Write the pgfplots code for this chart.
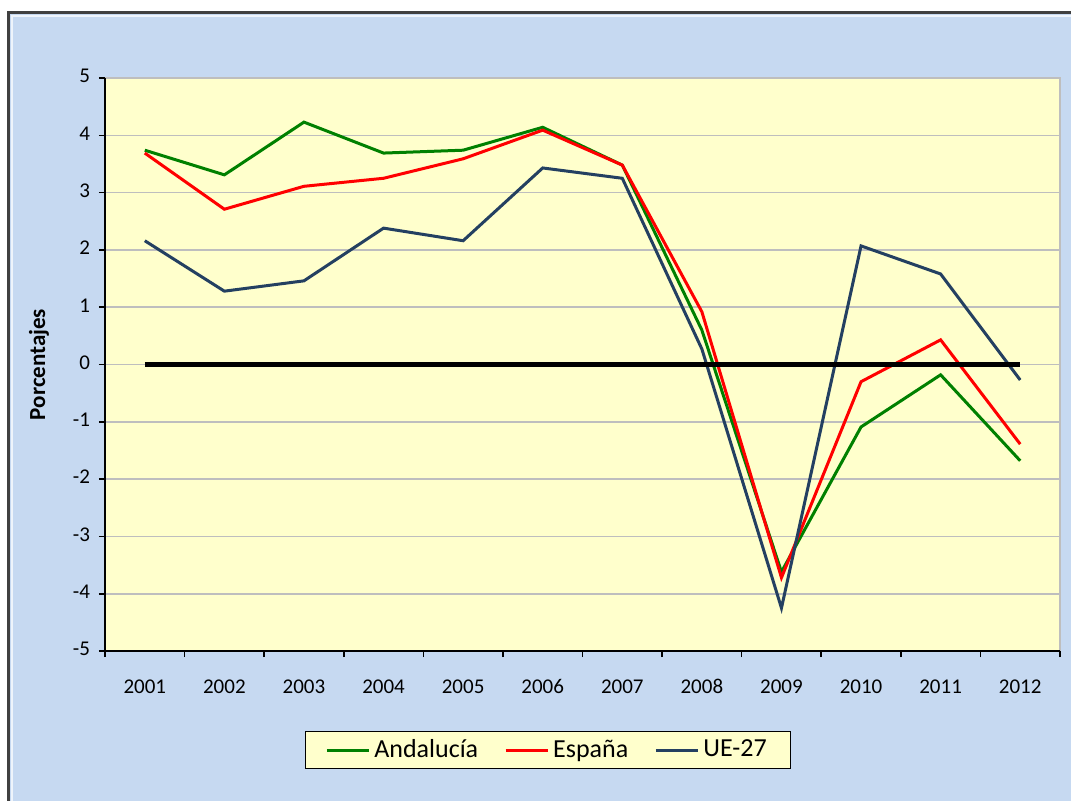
\documentclass[border=0pt]{standalone}
\usepackage{pgfplots}
\pgfplotsset{compat=1.18}
\usepackage{fontspec}
\setmainfont{Carlito}
\definecolor{bgblue}{RGB}{198,217,241}
\definecolor{plotyel}{RGB}{255,255,204}
\definecolor{ue}{RGB}{36,64,97}
\definecolor{andg}{RGB}{0,128,0}
\definecolor{gridg}{RGB}{190,190,190}
\begin{document}
\begin{tikzpicture}
\useasboundingbox (-52.5pt,-74.5pt) rectangle (483pt,325.5pt);
\fill[white] (-52.5pt,-74.5pt) rectangle (483pt,325.5pt);
\filldraw[fill=bgblue, draw=black!75, line width=1.5pt] (-48pt,-85pt) rectangle (495pt,319pt);
\draw[white!70!bgblue, line width=1pt] (-46.5pt,-85pt) -- (-46.5pt,317.5pt) -- (495pt,317.5pt);
\begin{axis}[
  scale only axis, width=477.5pt, height=286.5pt,
  at={(0pt,0pt)}, anchor=south west,
  xmin=0.5, xmax=12.5, ymin=-5, ymax=5,
  xtick={0.5,1.5,...,12.5},
  x tick label as interval,
  xticklabels={2001,2002,2003,2004,2005,2006,2007,2008,2009,2010,2011,2012},
  ytick={-5,-4,...,5},
  yticklabels={-5,-4,-3,-2,-1,0,1,2,3,4,5},
  typeset ticklabels with strut,
  axis lines*=left,
  axis line style={black, line width=1pt},
  tick align=outside,
  major tick length=3pt,
  tick style={black, line width=0.8pt},
  ymajorgrids,
  grid style={gridg, line width=0.8pt},
  axis background/.style={fill=plotyel, draw=gridg, line width=0.8pt},
  ticklabel style={font=\fontsize{10.5}{12}\selectfont},
  xticklabel style={yshift=-6.5pt},
  yticklabel style={xshift=-1pt},
  ylabel={\textbf{Porcentajes}},
  ylabel style={at={(axis description cs:-0.069,0.5)}, anchor=center, font=\fontsize{11.5}{13}\selectfont},
  legend style={at={(axis description cs:0.4639,-0.1728)}, anchor=center,
    fill=plotyel, draw=black, line width=0.8pt, legend columns=3,
    font=\fontsize{13}{15}\selectfont, /tikz/every even column/.append style={column sep=11pt},
    inner xsep=10pt, inner ysep=2pt},
  legend image code/.code={\draw[#1] (0pt,0pt) -- (21pt,0pt);},
]
\addplot[andg, line width=1.5pt] coordinates {
(1,3.74) (2,3.31) (3,4.23) (4,3.69) (5,3.74) (6,4.14) (7,3.48) (8,0.60) (9,-3.62) (10,-1.09) (11,-0.18) (12,-1.68)};
\addlegendentry{Andalucía}
\addplot[red, line width=1.5pt] coordinates {
(1,3.69) (2,2.71) (3,3.11) (4,3.25) (5,3.59) (6,4.09) (7,3.48) (8,0.92) (9,-3.72) (10,-0.30) (11,0.43) (12,-1.39)};
\addlegendentry{España}
\addplot[ue, line width=1.5pt] coordinates {
(1,2.16) (2,1.28) (3,1.46) (4,2.38) (5,2.16) (6,3.43) (7,3.25) (8,0.27) (9,-4.25) (10,2.07) (11,1.58) (12,-0.27)};
\addlegendentry{UE-27}
\addplot[black, line width=2.5pt, forget plot] coordinates {
(1,0) (2,0) (3,0) (4,0) (5,0) (6,0) (7,0) (8,0) (9,0) (10,0) (11,0) (12,0)};
\end{axis}
\end{tikzpicture}
\end{document}
